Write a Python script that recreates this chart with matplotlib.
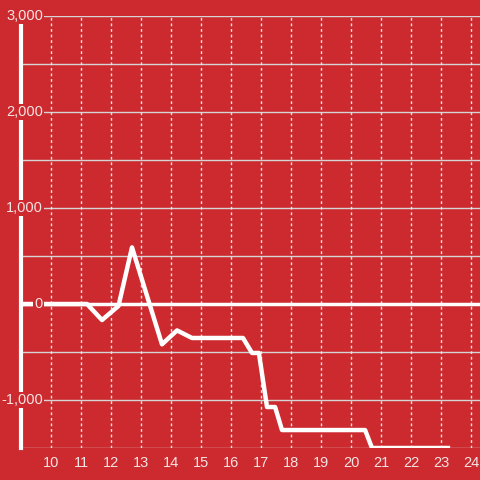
import matplotlib.pyplot as plt

# data (x = hour, y = value)
hours = [9.0, 11.2, 11.7, 12.25, 12.7, 13.7, 14.2, 14.7, 16.4, 16.7, 16.93, 17.2, 17.47, 17.7, 20.47, 20.7, 23.23]
values = [0, 0, -167, -20, 590, -420, -275, -354, -354, -510, -510, -1073, -1073, -1313, -1313, -1500, -1500]
xticks = list(range(10, 25))
yticks = [-1000, 0, 1000, 2000, 3000]

bg = '#cc2a2f'
fg = '#f4e4e4'
plt.rcParams['font.family'] = ['Liberation Sans', 'DejaVu Sans']

fig = plt.figure(figsize=(4.8, 4.8), dpi=100, facecolor=bg)
ax = fig.add_axes([21/480, 32/480, 459/480, 432/480], facecolor=bg)
ax.set_xlim(9.0, 24.3)
ax.set_ylim(-1500, 3000)

# grids
for y in range(-1500, 3001, 500):
    ax.axhline(y, color='#d4d4d4', lw=1, zorder=1)
for x in xticks:
    ax.plot([x, x], [-1500, 3000], color='#e8e8e8', lw=1, ls=(0, (2, 2)), zorder=1)

ax.axhline(0, color='white', lw=2.5, zorder=2)
ax.plot(hours, values, color='white', lw=3.2, solid_joinstyle='round', zorder=3)

for s in ['top', 'right', 'bottom']:
    ax.spines[s].set_visible(False)
ax.spines['left'].set_color('white')
ax.spines['left'].set_linewidth(3)
ax.spines['left'].set_zorder(2)

ax.set_xticks(xticks)
ax.set_xticklabels([str(x) for x in xticks])
ax.tick_params(axis='x', length=0, pad=6, labelsize=10.5, labelcolor=fg)
ax.set_yticks([])

# y labels drawn over the axis with background
for y in yticks:
    ax.text(9.73, y, f'{y:,}', ha='right', va='center', fontsize=10.5, color=fg, zorder=5,
            bbox=dict(boxstyle='square,pad=0.1', fc=bg, ec='none'))

fig.savefig('out.png', dpi=100, facecolor=bg)
